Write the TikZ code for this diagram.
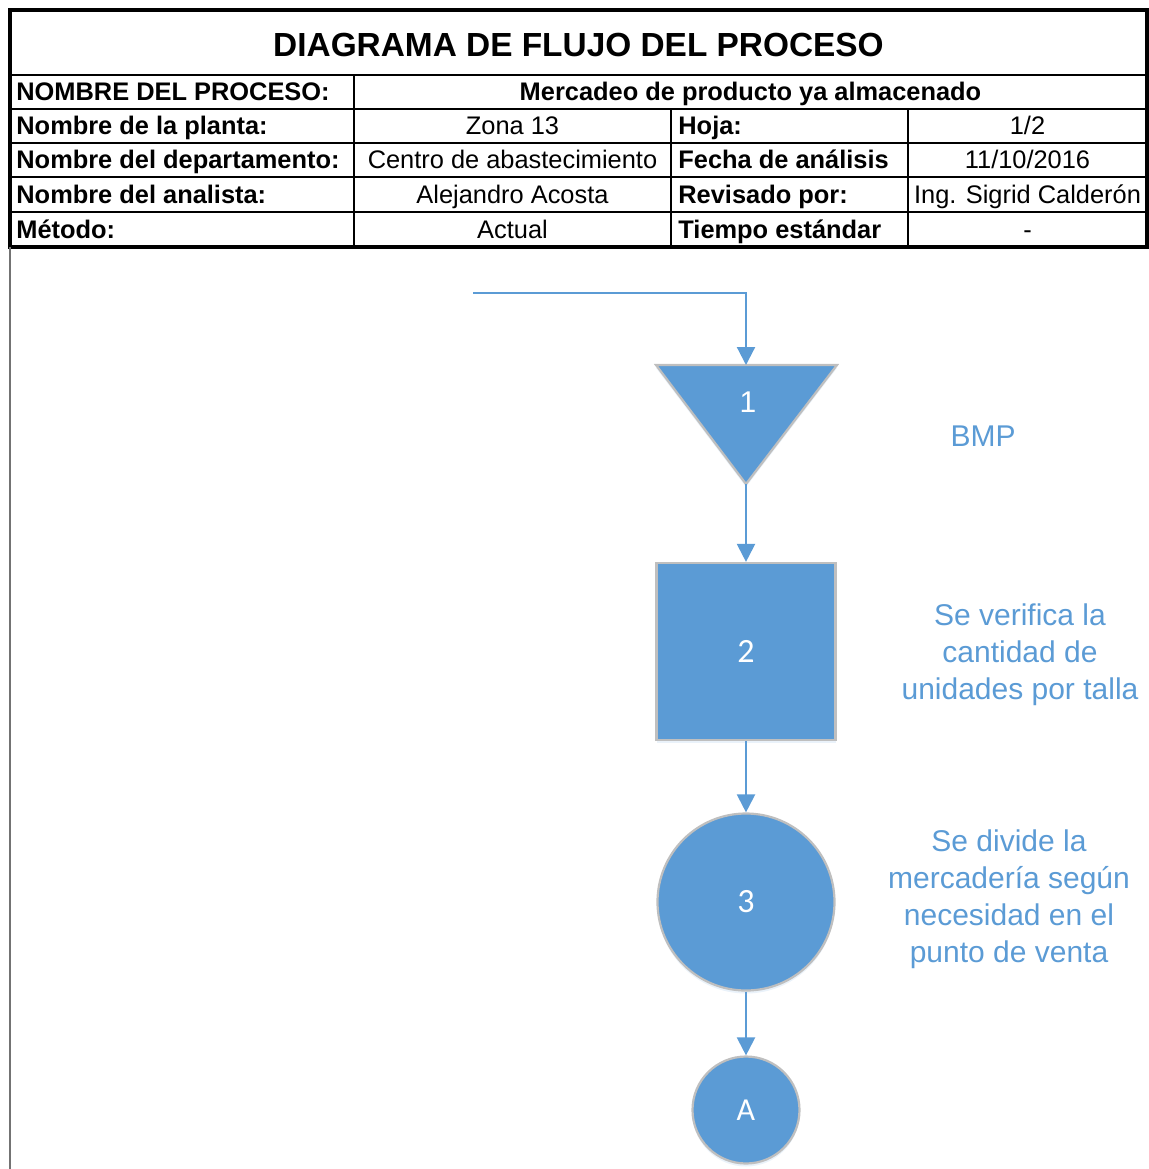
\documentclass[tikz,border=0pt]{standalone}
\usepackage{fontspec}
\setmainfont{Liberation Sans}
\newfontfamily\calibri{Carlito}
\usepackage{tikz}
\usetikzlibrary{positioning,calc,arrows.meta,shadows}

\definecolor{flowblue}{HTML}{5B9BD5}
\colorlet{edgegray}{black!25}

\tikzset{
  hdr/.style={font=\fontsize{12.7}{15}\selectfont\bfseries, anchor=base west, inner sep=0pt},
  val/.style={font=\fontsize{12.7}{15}\selectfont, anchor=base, inner sep=0pt},
  paso/.style={fill=flowblue, draw=edgegray, line width=1.1pt, text=white,
    drop shadow={shadow xshift=0pt, shadow yshift=-1.5pt, opacity=0.25, fill=flowblue!50}},
  flecha/.style={->, draw=flowblue, line width=1.1pt},
  nota/.style={text=flowblue, align=center, font=\fontsize{15}{18.5}\selectfont}
}

\begin{document}
\begin{tikzpicture}[x=0.5pt,y=-0.5pt,>={Triangle[width=9pt,length=9pt]},line join=miter]
  \useasboundingbox (0,0) rectangle (1149,1169);

  % header table
  \draw[line width=0.8pt] (10,75) -- (1147,75);
  \foreach \yy in {109,143,177,212}{
    \draw[line width=0.8pt] (10,\yy) -- (1147,\yy);
  }
  \draw[line width=0.8pt] (354,75) -- (354,247);
  \draw[line width=0.8pt] (671,109) -- (671,247);
  \draw[line width=0.8pt] (908,109) -- (908,247);
  \draw[line width=1.6pt] (10,10) rectangle (1147,247);
  \draw[black!55,line width=0.6pt] (10,247) -- (10,1169);

  \node[font=\fontsize{16.7}{20}\selectfont\bfseries, anchor=base, inner sep=0pt] (titulo) at (578.5,56) {DIAGRAMA DE FLUJO DEL PROCESO};
  \node[hdr] (proceso) at (16,100) {NOMBRE DEL PROCESO:};
  \node[hdr, anchor=base] (procesoval) at (750.5,100) {Mercadeo de producto ya almacenado};

  \foreach \yy/\la/\va/\lb/\vb [count=\i] in {
      134/{Nombre de la planta:}/{Zona 13}/{Hoja:}/{1/2},
      168/{Nombre del departamento:}/{Centro de abastecimiento}/{Fecha de análisis}/{11/10/2016},
      203/{Nombre del analista:}/{Alejandro Acosta}/{Revisado por:}/{Ing. Sigrid Calderón},
      238/{Método:}/{Actual}/{Tiempo estándar}/{-}}{
    \node[hdr] (la\i) at (16,\yy) {\la};
    \node[val] (va\i) at (512.5,\yy) {\va};
    \node[hdr] (lb\i) at (678,\yy) {\lb};
    \node[val] (vb\i) at (1027.5,\yy) {\vb};
  }

  % flow symbols
  \coordinate (inicio) at (473,293);
  \draw[paso] (656,365) -- (837,365) -- (746,484) -- cycle;
  \coordinate (alm1n) at (746,365);
  \coordinate (alm1s) at (746,484);
  \node[text=white, font=\fontsize{15}{18}\selectfont] (alm1) at (748,402) {1};
  \node[paso, rectangle, minimum width=89.5pt, minimum height=88.5pt] (insp2) at (746,651.5) {\calibri\fontsize{17}{20}\selectfont 2};
  \node[paso, circle, minimum size=88.5pt] (op3) at (746,902) {\calibri\fontsize{17}{20}\selectfont 3};
  \node[paso, circle, minimum size=53.5pt] (conA) at (746,1110) {\calibri\fontsize{16}{19}\selectfont A};

  % connectors
  \draw[flecha] (inicio) -| (alm1n);
  \draw[flecha] (alm1s) -- (insp2);
  \draw[flecha] (insp2) -- (op3);
  \draw[flecha] (op3) -- (conA);

  % notes
  \node[nota] (txtbmp) at (983,436) {BMP};
  \node[nota] (txtverif) at (1020,655) {Se verifica la\\cantidad de\\unidades por talla};
  \node[nota] (txtdivide) at (1009,899) {Se divide la\\mercadería según\\necesidad en el\\punto de venta};
\end{tikzpicture}
\end{document}
